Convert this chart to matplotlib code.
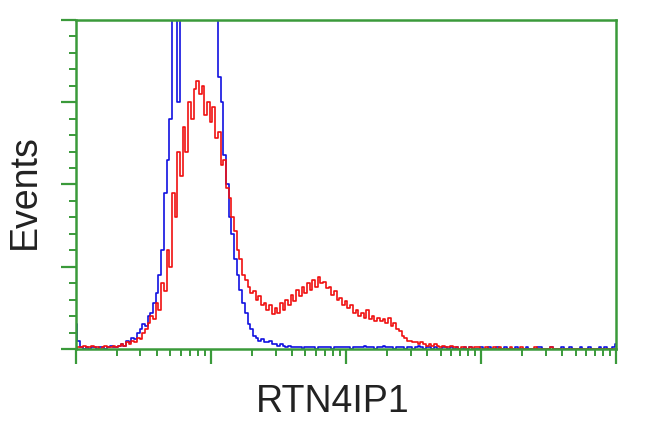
import numpy as np
import matplotlib
matplotlib.use('Agg')
import matplotlib.pyplot as plt

# channel positions: log10 intensity 0..4, step 0.02
log_channels = np.arange(201) * 0.02

# isotype control (blue), counts per channel
control_counts = [
    15, 5, 1, 0, 1, 0, 1, 1, 0, 1, 1, 0, 1, 2, 1, 1,
    2, 3, 2, 5, 4, 7, 6, 10, 12, 15, 14, 20, 22, 28, 34, 45, 60, 95, 115, 140,
    230, 245, 150, 240, 260, 270, 280, 275, 270, 265, 260, 255, 250, 245, 240, 235,
    210, 165, 150, 118, 100, 80, 70, 55, 45, 36, 28, 22, 15, 12, 8, 7, 5, 6, 4, 4,
    5, 3, 3, 2, 3, 2, 1, 2, 1,
    1, 1, 1, 0, 1, 1, 1, 1, 0, 1, 1, 1, 1, 1, 0, 1, 1, 1, 1, 1,
    1, 0, 1, 1, 1, 1, 2, 1, 1, 1, 0, 1, 1, 2, 1, 1, 1, 0, 1, 1,
    1, 0, 1, 1, 0, 1, 2, 1, 0, 1, 1, 0, 1, 0, 0, 1, 1, 0, 1, 0,
    1, 0, 0, 1, 0, 1, 0, 0, 0, 1, 0, 0, 1, 0, 0, 1, 0, 0, 1, 0,
    0, 0, 1, 0, 0, 0, 1, 0, 0, 0, 1, 1, 0, 0, 0, 1, 0, 0, 0, 1,
    0, 0, 1, 0, 0, 0, 1, 0, 0, 1, 0, 0, 0, 1, 0, 1, 0, 0, 1, 3,
]

# RTN4IP1 transfected cells (red)
rtn4ip1_counts = [
    0, 1, 1, 2, 1, 1, 2, 1, 1, 0, 1, 2, 1, 1, 2, 1,
    2, 3, 2, 4, 3, 5, 4, 7, 6, 10, 12, 16, 20, 18, 28, 24, 40, 35, 60, 50,
    95, 80, 120, 105, 135, 120, 150, 140, 158, 163, 155, 160, 142, 150, 138, 147, 128, 132, 112, 115,
    98, 92, 80, 72, 60, 55, 45, 42, 38, 34, 35, 30, 32, 27, 28, 24, 27, 21, 25, 22,
    28, 24, 30, 27, 33, 29, 36, 32, 38, 34, 40, 36, 42, 38, 44, 40, 41, 37, 38, 33,
    35, 30, 31, 27, 29, 25, 27, 22, 24, 20, 22, 19, 24, 18, 20, 17, 19, 17, 18, 16,
    19, 14, 16, 12, 11, 8, 7, 5, 5, 4, 4, 3, 4, 3, 2, 3, 2, 3, 2, 1,
    2, 1, 1, 2, 1, 1, 0, 1, 1, 0, 1, 0, 1, 1, 0, 0, 1, 0, 0, 1, 0, 1, 0, 0, 0,
    1, 0, 0, 0, 1, 0, 0, 0, 0, 1, 0, 0, 0, 0, 0, 1, 0, 0, 0, 0,
    0, 0, 0, 0, 0, 0, 0, 0, 0, 0, 0, 0, 0, 0, 0, 0, 0, 0, 0, 0,
]

x_label = 'RTN4IP1'
y_label = 'Events'

green = '#3a9a3a'
plt.rcParams['font.family'] = ['Liberation Sans', 'DejaVu Sans']

fig = plt.figure(figsize=(6.5, 4.32), dpi=100)
ax = fig.add_axes([0.117, 0.192, 0.831, 0.762])

x = 10 ** log_channels
ax.plot(x, control_counts, color='#1010e0', lw=1.2, drawstyle='steps-mid')
ax.plot(x, rtn4ip1_counts, color='#f01010', lw=1.2, drawstyle='steps-mid')

ax.set_xscale('log')
ax.set_xlim(1, 1e4)
ax.set_ylim(0, 200)
ax.set_yticks(np.arange(0, 201, 50))
ax.set_yticks(np.arange(0, 201, 10), minor=True)
ax.set_xticks([1, 10, 100, 1000, 10000])
ax.set_xticks([m * 10 ** d for d in range(4) for m in range(2, 10)], minor=True)
ax.set_xticklabels([])
ax.set_yticklabels([])

for s in ax.spines.values():
    s.set_color(green)
    s.set_linewidth(1.8)
ax.tick_params(which='major', length=11, width=1.6, color=green, direction='out')
ax.tick_params(which='minor', length=5, width=1.4, color=green, direction='out')

ax.set_xlabel(x_label, fontsize=27, color='#222222')
ax.xaxis.set_label_coords(0.476, -0.105)
ax.set_ylabel(y_label, fontsize=27, color='#222222')
ax.yaxis.set_label_coords(-0.062, 0.477)

fig.savefig('out.png', dpi=100, facecolor='white')
